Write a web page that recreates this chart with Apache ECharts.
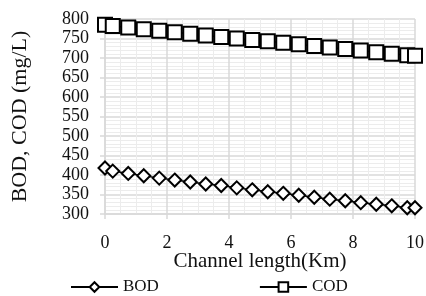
<!DOCTYPE html>
<html>
<head>
    <title>BOD COD</title>
    <style>
        body { margin: 0; padding: 0; background: #fff; }
        #chart { width: 426px; height: 296px; }
    </style>
</head>
<body>
    <div id="chart"></div>
    <script src="https://cdn.jsdelivr.net/npm/echarts@6/dist/echarts.min.js"></script>
    <script>
        // distance along channel (km)
        const distance = [0, 0.25, 0.75, 1.25, 1.75, 2.25, 2.75, 3.25, 3.75, 4.25, 4.75,
                          5.25, 5.75, 6.25, 6.75, 7.25, 7.75, 8.25, 8.75, 9.25, 9.75, 10];
        const bod = [418, 410, 404, 398, 392, 387, 382, 377, 373, 367, 362,
                     357, 353, 348, 343, 338, 334, 329, 325, 321, 316, 316];
        const cod = [785, 782, 778, 774, 770, 766, 762, 758, 754, 750, 746,
                     743, 739, 735, 731, 727, 723, 719, 715, 711, 707, 706];
        // y tick labels, split over two label layers so none get dropped
        const yTicksEven = [300, 400, 500, 600, 700, 800];
        const yTicksOdd = [350, 450, 550, 650, 750];

        const font = 'Liberation Serif';
        const gridGray = '#d9d9d9';
        const chart = echarts.init(document.getElementById('chart'));

        const pairs = (ys) => distance.map((x, i) => [x, ys[i]]);

        const labelStyle = {
            margin: 16, fontFamily: font, fontSize: 18, color: '#111',
            hideOverlap: false
        };

        const axisCommon = {
            type: 'value',
            nameLocation: 'middle',
            nameMoveOverlap: false,
            axisLine: { show: true, lineStyle: { color: gridGray, width: 1.5 } },
            axisTick: { show: true, length: 5, lineStyle: { color: gridGray, width: 1.5 } },
            axisLabel: labelStyle,
            splitLine: { show: true, lineStyle: { color: gridGray, width: 1.5 } },
            minorSplitLine: { show: true, lineStyle: { color: '#ececec', width: 1 } }
        };

        chart.setOption({
            animation: false,
            textStyle: { fontFamily: font, color: '#111' },
            grid: { left: 105, right: 11, top: 19, bottom: 82, outerBoundsMode: 'none' },
            legend: {
                bottom: -4,
                left: 70,
                padding: 0,
                itemWidth: 47,
                itemHeight: 12,
                itemGap: 100,
                textStyle: { fontFamily: font, fontSize: 17, color: '#111' },
                data: ['BOD', 'COD']
            },
            xAxis: Object.assign({}, axisCommon, {
                min: 0, max: 10, interval: 2,
                name: 'Channel length(Km)',
                nameGap: 31,
                nameTextStyle: { fontFamily: font, fontSize: 21, color: '#111' },
                minorTick: { show: false, splitNumber: 4 }
            }),
            yAxis: [
                Object.assign({}, axisCommon, {
                    position: 'left',
                    min: 300, max: 800, interval: 50,
                    name: 'BOD, COD (mg/L)',
                    nameGap: 68,
                    nameTextStyle: { fontFamily: font, fontSize: 22, color: '#111' },
                    axisLabel: Object.assign({}, labelStyle, {
                        customValues: yTicksEven, showMinLabel: true, showMaxLabel: true
                    }),
                    minorTick: { show: false, splitNumber: 5 }
                }),
                {
                    type: 'value',
                    position: 'left',
                    offset: 0,
                    min: 300, max: 800, interval: 50,
                    axisLine: { show: false },
                    axisTick: { show: false },
                    splitLine: { show: false },
                    axisLabel: Object.assign({}, labelStyle, { customValues: yTicksOdd })
                }
            ],
            series: [
                {
                    name: 'BOD',
                    type: 'line',
                    data: pairs(bod),
                    symbol: 'diamond',
                    symbolSize: 13,
                    color: '#000',
                    lineStyle: { color: '#000', width: 1.5 },
                    itemStyle: { color: '#fff', borderColor: '#000', borderWidth: 2 }
                },
                {
                    name: 'COD',
                    type: 'line',
                    data: pairs(cod),
                    symbol: 'rect',
                    symbolSize: 14,
                    color: '#000',
                    lineStyle: { color: '#000', width: 1.5 },
                    itemStyle: { color: '#fff', borderColor: '#000', borderWidth: 2 }
                }
            ]
        });
    </script>
</body>
</html>
